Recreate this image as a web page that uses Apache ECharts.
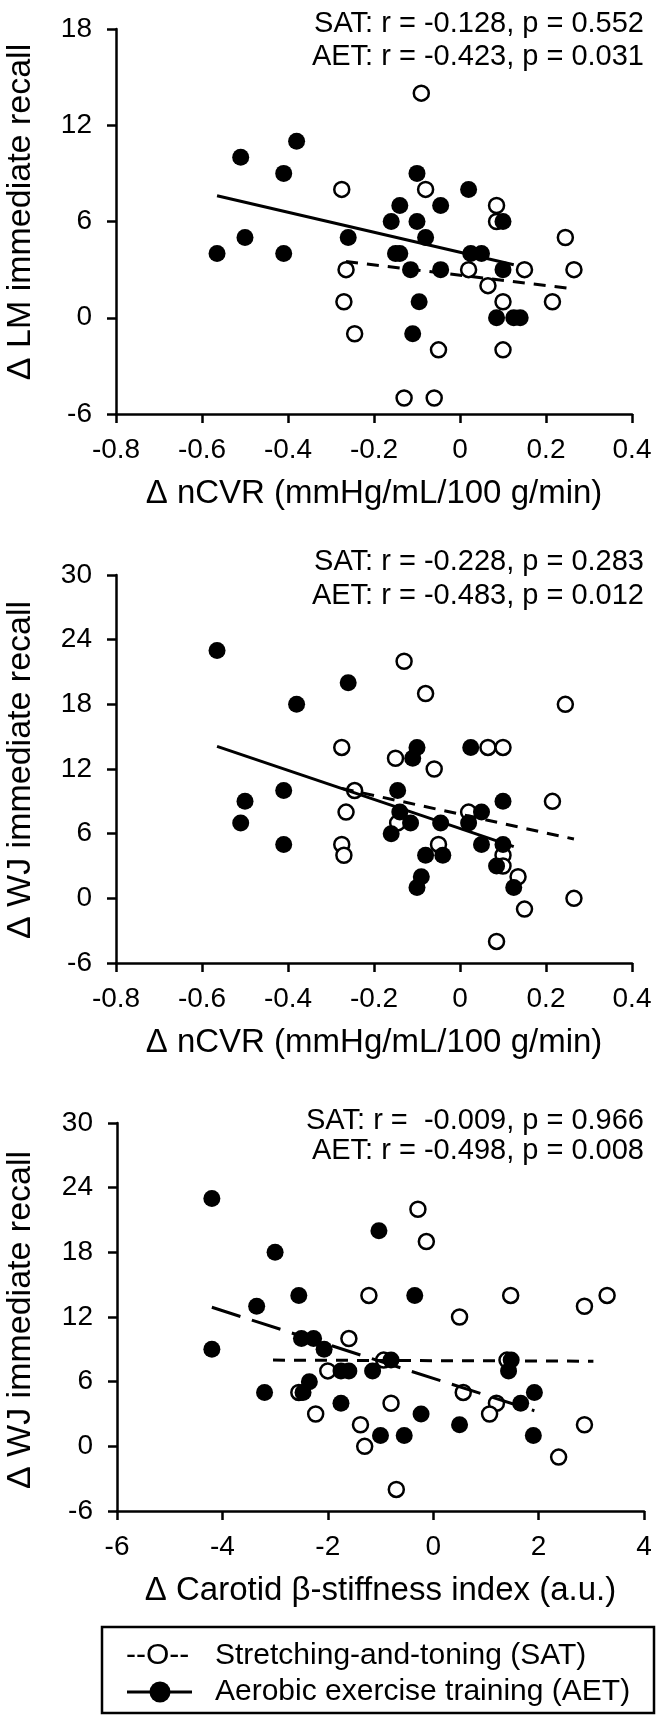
<!DOCTYPE html>
<html>
<head>
<meta charset="utf-8">
<script src="https://cdn.jsdelivr.net/npm/echarts@6/dist/echarts.min.js"></script>
<style>
html,body{margin:0;padding:0;background:#fff;}
#c{width:660px;height:1723px;}
</style>
</head>
<body>
<div id="c"></div>
<script>
// ---------- data ----------
// Panel 1: Δ nCVR vs Δ LM immediate recall
const p1SAT = [[-0.09,14],[-0.275,8],[-0.08,8],[0.085,7],[0.085,6],[-0.265,3],[-0.27,1],[-0.245,-1],[-0.05,-2],[0.02,3],[0.065,2],[0.10,1],[0.10,-2],[0.15,3],[0.215,1],[0.245,5],[0.265,3],[-0.13,-5],[-0.06,-5]];
const p1AET = [[-0.565,4],[-0.51,10],[-0.50,5],[-0.41,9],[-0.41,4],[-0.38,11],[-0.26,5],[-0.16,6],[-0.14,7],[-0.15,4],[-0.14,4],[-0.115,3],[-0.10,9],[-0.10,6],[-0.08,5],[-0.095,1],[-0.11,-1],[-0.045,3],[-0.045,7],[0.02,8],[0.025,4],[0.05,4],[0.10,6],[0.10,3],[0.085,0],[0.125,0],[0.14,0]];
const p1SATfit = [[-0.265,3.5],[0.265,1.8]];
const p1AETfit = [[-0.565,7.6],[0.125,3.3]];
// Panel 2: Δ nCVR vs Δ WJ immediate recall
const p2SAT = [[-0.13,22],[-0.08,19],[0.245,18],[-0.275,14],[-0.15,13],[0.065,14],[0.10,14],[-0.06,12],[-0.245,10],[-0.265,8],[0.215,9],[0.02,8],[-0.275,5],[-0.27,4],[-0.145,7],[-0.05,5],[0.10,4],[0.10,3],[0.135,2],[0.15,-1],[0.265,0],[0.085,-4]];
const p2AET = [[-0.565,23],[-0.26,20],[-0.38,18],[-0.50,9],[-0.51,7],[-0.41,10],[-0.41,5],[-0.10,14],[-0.11,13],[-0.145,10],[-0.14,8],[-0.16,6],[-0.115,7],[-0.045,7],[-0.08,4],[-0.04,4],[-0.09,2],[-0.10,1],[0.025,14],[0.05,8],[0.02,7],[0.05,5],[0.10,9],[0.10,5],[0.085,3],[0.125,1]];
const p2SATfit = [[-0.275,10.2],[0.265,5.5]];
const p2AETfit = [[-0.565,14.1],[0.125,4.8]];
// Panel 3: Δ carotid β-stiffness vs Δ WJ immediate recall
const p3SAT = [[-0.29,22],[-0.13,19],[-1.22,14],[1.47,14],[3.3,14],[2.87,13],[0.5,12],[-1.6,10],[-0.94,8],[1.4,8],[-2.0,7],[-2.55,5],[0.57,5],[-0.8,4],[1.2,4],[-2.23,3],[1.07,3],[-1.38,2],[2.87,2],[-1.3,0],[2.38,-1],[-0.7,-4]];
const p3AET = [[-4.2,23],[-4.2,9],[-3.0,18],[-3.35,13],[-3.2,5],[-2.55,14],[-2.5,10],[-2.27,10],[-2.07,9],[-2.35,6],[-2.47,5],[-1.75,7],[-1.6,7],[-1.75,4],[-1.15,7],[-1.03,20],[-0.8,8],[-0.35,14],[-1.0,1],[-0.55,1],[-0.23,3],[0.5,2],[1.48,8],[1.43,7],[1.66,4],[1.92,5],[1.9,1]];
const p3SATfit = [[-3.04,8.0],[3.04,7.9]];
const p3AETfit = [[-4.2,12.9],[1.92,3.3]];

const yNames = ['\u0394 LM immediate recall','\u0394 WJ immediate recall','\u0394 WJ immediate recall'];
const xNames = ['\u0394 nCVR (mmHg/mL/100 g/min)','\u0394 nCVR (mmHg/mL/100 g/min)','\u0394 Carotid \u03b2-stiffness index (a.u.)'];
const statsSAT = ['SAT: r = -0.128, p = 0.552','SAT: r = -0.228, p = 0.283','SAT: r =  -0.009, p = 0.966'];
const statsAET = ['AET: r = -0.423, p = 0.031','AET: r = -0.483, p = 0.012','AET: r = -0.498, p = 0.008'];
const xRanges = [[-0.8,0.4,0.2],[-0.8,0.4,0.2],[-6,4,2]];
const yRanges = [[-6,18,6],[-6,30,6],[-6,30,6]];
const legendNames = ['Stretching-and-toning (SAT)','Aerobic exercise training (AET)'];

// ---------- layout ----------
const FONT = '"Liberation Sans", Arial, sans-serif';
const grids = [
  {left:116, top:29, width:516, height:385},
  {left:116, top:575, width:516, height:388},
  {left:117, top:1123, width:527, height:388}
];
const statY = [[24,57],[562,596],[1121,1151]];
const yNameY = [212,770,1320];
const satData = [p1SAT,p2SAT,p3SAT], aetData=[p1AET,p2AET,p3AET];
const satFit = [p1SATfit,p2SATfit,p3SATfit], aetFit=[p1AETfit,p2AETfit,p3AETfit];

const xAxes=[], yAxes=[], series=[], graphics=[];
for (let i=0;i<3;i++){
  const common = () => ({
    axisLine:{show:true,onZero:false,lineStyle:{color:'#000',width:2.5}},
    axisTick:{show:true,inside:false,length:9,lineStyle:{color:'#000',width:2.5}},
    splitLine:{show:false}
  });
  xAxes.push(Object.assign(common(), {
    type:'value', gridIndex:i, min:xRanges[i][0], max:xRanges[i][1], interval:xRanges[i][2],
    name:xNames[i], nameLocation:'middle', nameGap:63,
    nameTextStyle:{color:'#000',fontSize:33,fontFamily:FONT},
    axisLabel:{color:'#000',fontSize:28,fontFamily:FONT,margin:22}
  }));
  yAxes.push(Object.assign(common(), {
    type:'value', gridIndex:i, min:yRanges[i][0], max:yRanges[i][1], interval:yRanges[i][2],
    axisLabel:{color:'#000',fontSize:28,fontFamily:FONT,margin:24}
  }));
  series.push({
    type:'scatter', xAxisIndex:i, yAxisIndex:i, data:satData[i], symbol:'circle', symbolSize:15,
    itemStyle:{color:'#fff',borderColor:'#000',borderWidth:2.5,opacity:1}, z:2
  });
  series.push({
    type:'scatter', xAxisIndex:i, yAxisIndex:i, data:aetData[i], symbol:'circle', symbolSize:17,
    itemStyle:{color:'#000',opacity:1}, z:3
  });
  series.push({
    type:'line', xAxisIndex:i, yAxisIndex:i, data:satFit[i], showSymbol:false, symbol:'none',
    lineStyle:{color:'#000',width:3,type:[12,9]}, z:4
  });
  series.push({
    type:'line', xAxisIndex:i, yAxisIndex:i, data:aetFit[i], showSymbol:false, symbol:'none',
    lineStyle:{color:'#000',width:3,type: i===2 ? [30,12] : 'solid'}, z:4
  });
  graphics.push({type:'text', x:644, y:statY[i][0], style:{text:statsSAT[i], font:'29px '+FONT, fill:'#000', textAlign:'right', textVerticalAlign:'middle'}});
  graphics.push({type:'text', x:644, y:statY[i][1], style:{text:statsAET[i], font:'29px '+FONT, fill:'#000', textAlign:'right', textVerticalAlign:'middle'}});
  graphics.push({type:'text', x:21, y:yNameY[i], rotation:Math.PI/2, style:{text:yNames[i], font:'34px '+FONT, fill:'#000', textAlign:'center', textVerticalAlign:'middle'}});
}

// legend box
graphics.push({type:'rect', shape:{x:102,y:1627,width:552,height:86}, style:{fill:'none',stroke:'#000',lineWidth:2.5}});
graphics.push({type:'text', x:126, y:1656, style:{text:'--O--', font:'30px '+FONT, fill:'#000', textVerticalAlign:'middle'}});
graphics.push({type:'text', x:215, y:1656, style:{text:legendNames[0], font:'30px '+FONT, fill:'#000', textVerticalAlign:'middle'}});
graphics.push({type:'line', shape:{x1:127,y1:1692,x2:192,y2:1692}, style:{stroke:'#000',lineWidth:3}});
graphics.push({type:'circle', shape:{cx:160,cy:1692,r:10.5}, style:{fill:'#000'}});
graphics.push({type:'text', x:215, y:1692, style:{text:legendNames[1], font:'30px '+FONT, fill:'#000', textVerticalAlign:'middle'}});

const chart = echarts.init(document.getElementById('c'), null, {renderer:'canvas'});
chart.setOption({
  animation:false,
  backgroundColor:'#fff',
  grid:grids.map(g=>Object.assign({containLabel:false},g)),
  xAxis:xAxes, yAxis:yAxes, series:series, graphic:graphics
});
</script>
</body>
</html>
